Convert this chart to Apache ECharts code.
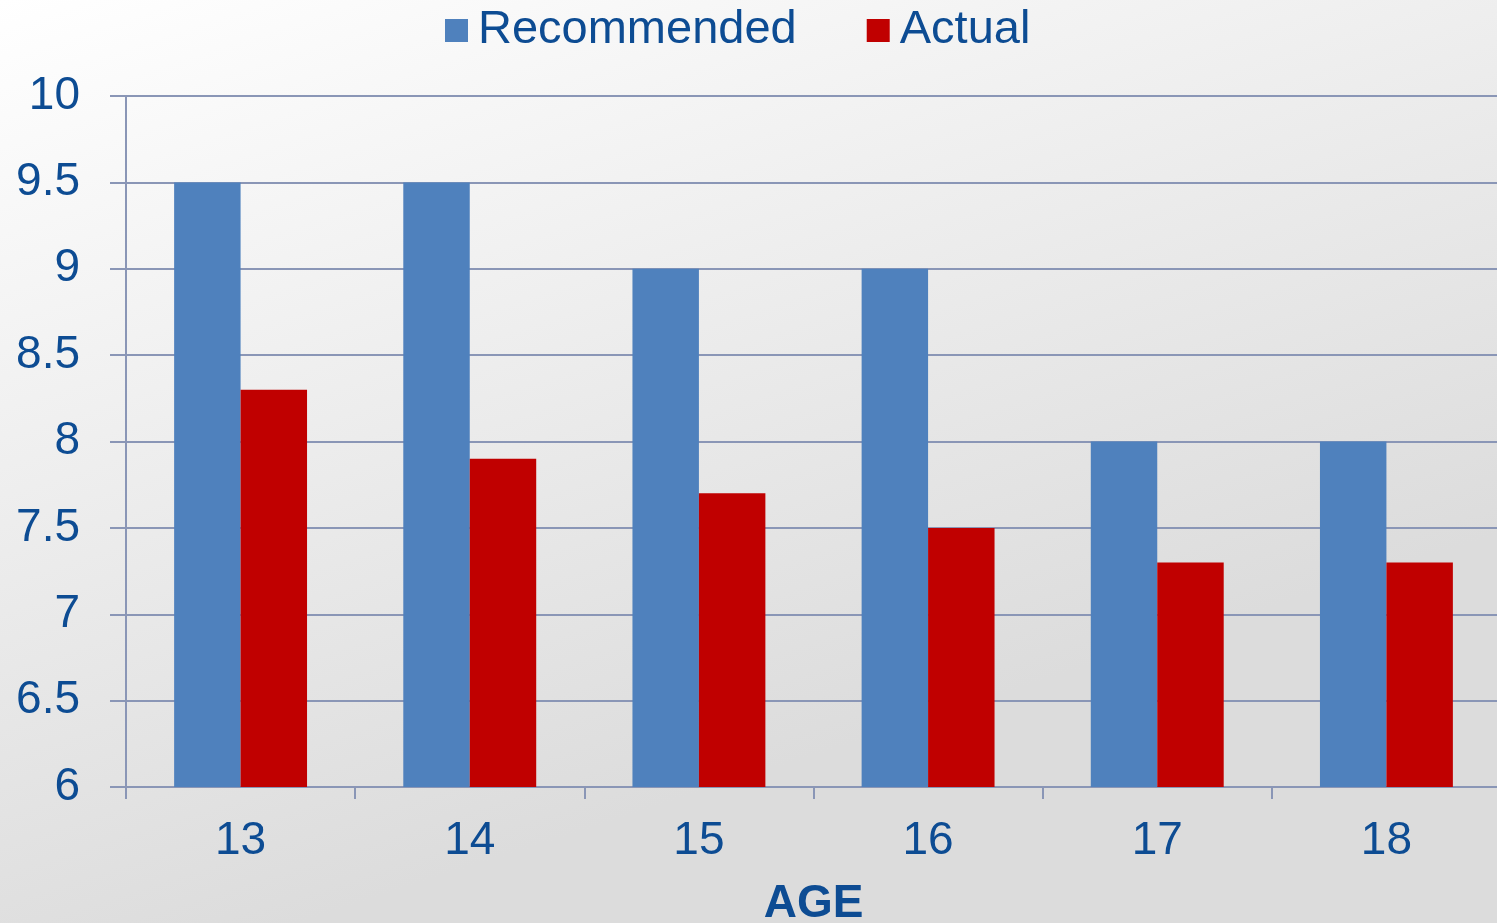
<!DOCTYPE html>
<html>
<head>
<meta charset="utf-8">
<script src="https://cdn.jsdelivr.net/npm/echarts@6/dist/echarts.min.js"></script>
<style>
html,body{margin:0;padding:0;width:1497px;height:923px;overflow:hidden;}
#chart{width:1497px;height:923px;}
</style>
</head>
<body>
<div id="chart"></div>
<script>
const ages = ['13', '14', '15', '16', '17', '18'];
const recommended = [9.5, 9.5, 9, 9, 8, 8];
const actual = [8.3, 7.9, 7.7, 7.5, 7.3, 7.3];
const seriesNames = ['Recommended', 'Actual'];
const xAxisTitle = 'AGE';

const textColor = '#0D4C93';
const lineColor = '#8A96B6';
const font = '"Liberation Sans", Arial, sans-serif';

const chart = echarts.init(document.getElementById('chart'));
chart.setOption({
  backgroundColor: new echarts.graphic.LinearGradient(0, 0, 0.2, 1, [
    {offset: 0, color: '#ffffff'},
    {offset: 1, color: '#dcdcdc'}
  ]),
  animation: false,
  textStyle: {fontFamily: font},
  legend: {
    top: 2,
    left: 440,
    data: seriesNames,
    icon: 'rect',
    itemWidth: 23,
    itemHeight: 23,
    itemGap: 70,
    textStyle: {fontSize: 47, color: textColor, fontFamily: font, padding: [0, 0, 0, 5]}
  },
  grid: {left: 126, right: -4, top: 96, bottom: 136, containLabel: false, outerBoundsMode: 'none'},
  xAxis: {
    type: 'category',
    data: ages,
    name: xAxisTitle,
    nameLocation: 'middle',
    nameGap: 94,
    nameTextStyle: {fontSize: 46, fontWeight: 'bold', color: textColor, fontFamily: font},
    axisLine: {show: true, lineStyle: {color: lineColor, width: 2}},
    axisTick: {show: true, length: 12, lineStyle: {color: lineColor, width: 2}},
    axisLabel: {fontSize: 46, color: textColor, margin: 31, fontFamily: font}
  },
  yAxis: {
    type: 'value',
    min: 6,
    max: 10,
    interval: 0.5,
    axisLine: {show: true, lineStyle: {color: lineColor, width: 2}},
    axisTick: {show: true, length: 16, lineStyle: {color: lineColor, width: 2}},
    splitLine: {show: true, lineStyle: {color: lineColor, width: 2}},
    axisLabel: {fontSize: 46, color: textColor, margin: 46, fontFamily: font}
  },
  series: [
    {
      name: seriesNames[0],
      type: 'bar',
      data: recommended,
      barGap: '0%',
      barCategoryGap: '42%',
      itemStyle: {color: '#4F81BD'}
    },
    {
      name: seriesNames[1],
      type: 'bar',
      data: actual,
      itemStyle: {color: '#C00000'}
    }
  ]
});
</script>
</body>
</html>
